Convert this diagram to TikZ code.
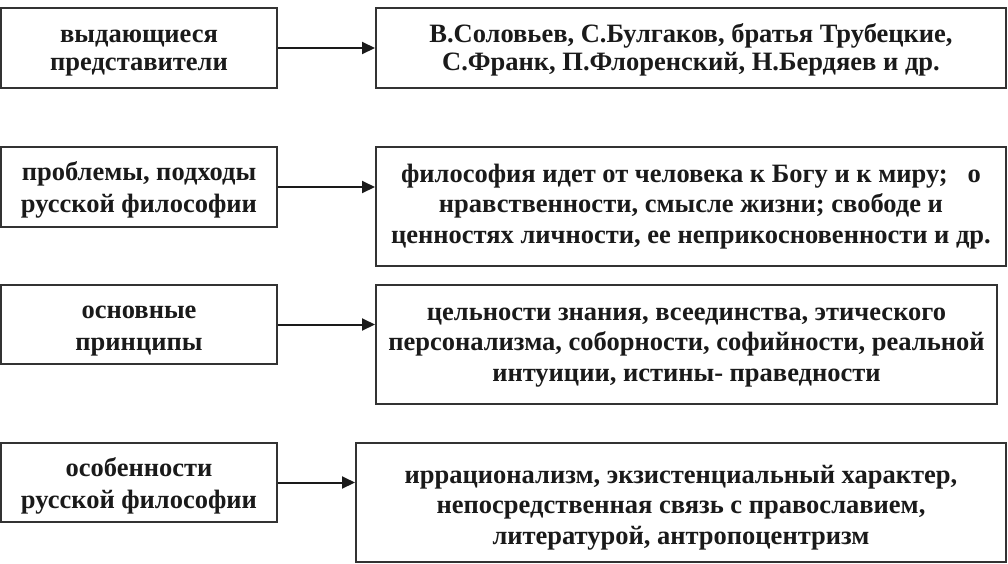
\documentclass[tikz,border=0pt]{standalone}
\usepackage{fontspec}
\setmainfont{Liberation Serif}
\usepackage{tikz}
\usetikzlibrary{arrows.meta,positioning}
\definecolor{ink}{HTML}{1A1A1A}
\definecolor{edge}{HTML}{333333}
\definecolor{paper}{HTML}{FFFFFF}
% text lines of a card; the optional rule lowers the block a little
\newcommand{\cardlines}[2][0pt]{\begin{tabular}{@{}c@{}}\rule{0pt}{#1}#2\end{tabular}}
\tikzset{
  flowarr/.style={-{Triangle[length=13pt,width=12pt]},line width=2pt,color=ink},
  leftcard/.style={draw=edge,fill=paper,line width=2pt,inner sep=4pt,
    minimum width=276pt,minimum height=80pt,text=ink,
    font=\fontsize{26.5}{32}\selectfont\bfseries},
  rightcard/.style={draw=edge,fill=paper,line width=2pt,inner sep=4pt,
    minimum height=119pt,text=ink,
    font=\fontsize{26.5}{30.5}\selectfont\bfseries},
  tightlines/.style={font=\fontsize{26.5}{28}\selectfont\bfseries}
}

\begin{document}
\begin{tikzpicture}[x=1pt,y=-1pt]
  \useasboundingbox (0,0) rectangle (1008,563);
  % left column
  \node[leftcard,tightlines] (who) at (139,48)
    {\cardlines[24.4pt]{выдающиеся\\представители}};
  \node[leftcard] (prob) at (139,187)
    {\cardlines[29.4pt]{проблемы, подходы\\русской философии}};
  \node[leftcard,minimum height=79pt] (princ) at (139,324.5)
    {\cardlines[29.4pt]{основные\\принципы}};
  \node[leftcard,minimum height=79pt] (feat) at (139,482.5)
    {\cardlines[29.4pt]{особенности\\русской философии}};
  % right column
  \node[rightcard,tightlines,minimum width=630pt,minimum height=80pt] (names) at (691,48)
    {\cardlines[24.4pt]{В.Соловьев, С.Булгаков, братья Трубецкие,\\С.Франк, П.Флоренский, Н.Бердяев и др.}};
  \node[rightcard,minimum width=630pt] (ways) at (691,206.5)
    {\cardlines{философия идет от человека к Богу и к миру; \ \ о\\нравственности, смысле жизни; свободе и\\ценностях личности, ее неприкосновенности и др.}};
  \node[rightcard,minimum width=621pt] (ideas) at (686.5,344.5)
    {\cardlines{цельности знания, всеединства, этического\\персонализма, соборности, софийности, реальной\\интуиции, истины- праведности}};
  \node[rightcard,minimum width=650pt] (traits) at (681,502.5)
    {\cardlines[31.4pt]{иррационализм, экзистенциальный характер,\\непосредственная связь с православием,\\литературой, антропоцентризм}};
  % links
  \draw[flowarr] (who.east) -- (who.east -| names.west);
  \draw[flowarr] (prob.east) -- (prob.east -| ways.west);
  \draw[flowarr] (princ.east) -- (princ.east -| ideas.west);
  \draw[flowarr] (feat.east) -- (feat.east -| traits.west);
\end{tikzpicture}
\end{document}
